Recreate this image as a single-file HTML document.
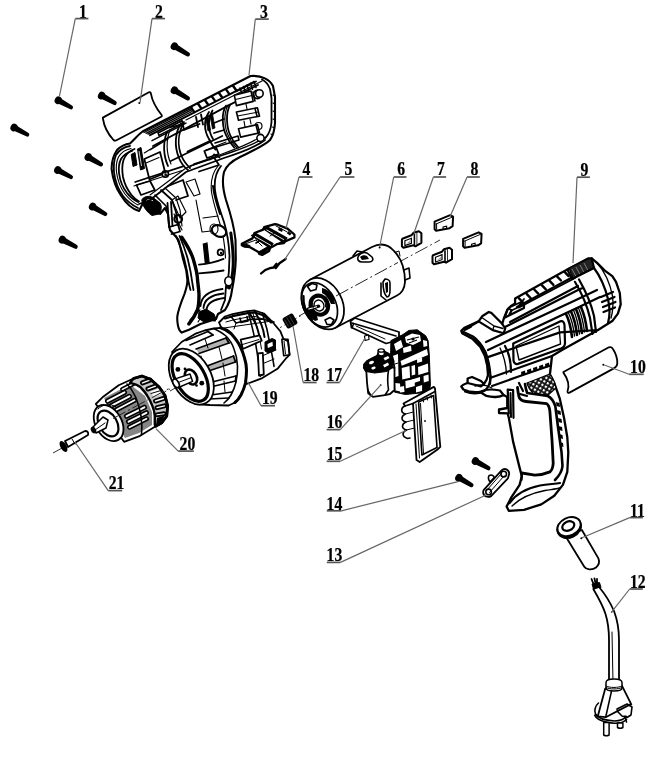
<!DOCTYPE html>
<html><head><meta charset="utf-8"><style>
html,body{margin:0;padding:0;background:#fff;overflow:hidden;}
svg{display:block;will-change:transform;}
.lb{font-family:"Liberation Serif",serif;font-weight:bold;font-size:17.8px;fill:#000;stroke:#000;stroke-width:0.25;}
.ld{stroke:#666;stroke-width:1.2;fill:none;}
.ul{stroke:#555;stroke-width:1.7;fill:none;}
</style></head><body>
<svg width="668" height="762" viewBox="0 0 668 762">
<defs>
<g id="scr"><ellipse cx="0" cy="0" rx="3.2" ry="3.4" fill="#000"/><path d="M0,-2.6 L13,-1.5 Q16,0 13,1.6 L0,2.7 Z" fill="#000"/></g>
</defs>
<rect width="668" height="762" fill="#fff"/>

<style>
.k{stroke:#000;stroke-width:1.8;fill:#fff;stroke-linejoin:round;stroke-linecap:round}
.n{stroke:#000;stroke-width:1.6;fill:none;stroke-linejoin:round;stroke-linecap:round}
.t{stroke:#000;stroke-width:1.0;fill:none;stroke-linejoin:round;stroke-linecap:round}
.b{stroke:#000;stroke-width:2.4;fill:none;stroke-linejoin:round;stroke-linecap:round}
.f{fill:#000;stroke:none}
.h9 .n{stroke-width:2.2}
.h9 .t{stroke-width:1.35}
.h9 .k{stroke-width:2.3}
.h3 .n{stroke-width:1.8}
.h3 .t{stroke-width:1.15}
.h3 .k{stroke-width:2.1}
.cl{stroke:#333;stroke-width:1;fill:none;stroke-dasharray:14 3 2 3}
</style>
<!-- centerlines -->
<path class="cl" d="M53,453 L170,389"/>
<path class="cl" d="M170,391 L301,315.6"/>
<path class="cl" d="M299,316 L440,240"/>

<!-- plate 2 -->
<path class="k" d="M102.9,117.6 L148.9,92.3 Q150.6,91.8 150.9,93.6 C152,100 156,108 161.8,115.3 Q162.2,116.3 161.2,116.8 L116,140.5 Q114.5,141 113.5,140 C108,134 104,126 102.9,118.5 Z"/>
<circle cx="139.3" cy="103" r="1" class="f"/>

<!-- housing 3 -->
<g id="h3" class="h3">
<path class="k" d="M142.5,131.5 L250.5,76 C262,75 270,80 273,86 L275,97 L275,123 C274.5,131 273,136 270,140 C264,146 252,151 240,157 C232,161 226,166 224,172 C222,180 223,190 226,200 C230,212 234,225 235.5,240 L235.8,259 C235.5,270 234,280 232,290 C231,298 229,304 225,310 L218,314 L216,319 L200.5,324 L189,329.7 L181.7,332.6 C178,330 177,322 177.3,316.7 C178,310 180,305 184.6,293.6 C186.5,288 187.4,285 187.4,280 C187,270 185,265 183,259 C181,250 180,245 178.5,240 C176,236 173,234 170,230 C169,226 168.5,220 168,214 L165,208 L160,214 L150,207 L143,203 L139,211 C132,209 125,202 120.7,195 C116,188 113,180 111.6,169 C111.5,162 113,156 117,150 C121,146 126,144 130,143.5 C135,139 139,134 142.5,131.5 Z"/>
<!-- front C rings -->
<path class="n" d="M130,146 C124,147 119,150 116,155 C114,160 113.5,166 114,172 C115,181 118,189 123,196 C127,201 132,205 138,208"/>
<path class="t" d="M131,148.5 C126,149.5 121.5,152 118.5,157 C116.5,161 116,167 116.5,172 C117.5,180 120.5,188 125,194 C129,199 133,202.5 138,205"/>
<path class="n" d="M132,151 C128,152 124,154.5 121,159 C119,163 118.5,168 119,173 C120,181 123,188 127,193 C130,197 134,200 138,202"/>
<!-- top band -->
<path class="b" d="M144.0,132.5 L192.0,107.9 M146.0,133.3 L192.0,109.7 M148.0,134.1 L192.0,111.5" style="stroke-width:1.3"/>
<path class="b" d="M150.0,135.2 L254.0,81.8" style="stroke-width:1.9"/>
<path class="b" d="M191.0,107.4 L194.2,111.9 M198.0,103.8 L201.2,108.3 M205.0,100.2 L208.2,104.7 M212.0,96.6 L215.2,101.1 M219.0,93.0 L222.2,97.5 M226.0,89.4 L229.2,93.9 M233.0,85.8 L236.2,90.3" style="stroke-width:2.4"/>
<path d="M158,133.0 L182,120.7 L183,123.2 L159,135.5 Z" fill="#fff" stroke="#000" stroke-width="1.6"/>
<path class="b" d="M152.0,140.6 L186.0,123.1" style="stroke-width:1.5"/>
<path class="t" d="M186.0,120.1 L262.0,81.1"/>
<path class="b" d="M236,91.5 L256,81.5 M238,95 L258,85" style="stroke-width:1.8"/>
<path class="b" d="M240,88 L242,94 M243.5,86.5 L245.5,92.5 M247,85 L249,91 M250.5,83.2 L252.5,89.2 M254,81.5 L256,87.5" style="stroke-width:1.5"/>
<!-- inner wall lower edge under top band -->
<path class="n" d="M153,146 L230,104.6 L249,95.2"/>
<!-- right end rim -->
<path class="n" d="M262,79.5 C266,81.5 268.5,85 270,89 L271.5,98 L271.5,122 C271,129 269,134 265.5,138"/>
<path class="t" d="M273,95 l2,1 M273,103 l2,1 M273,111 l2,1 M273,119 l2,1 M272.5,127 l2,1 M271,134 l2,1"/>
<circle class="n" cx="257.4" cy="94.5" r="4"/>
<circle class="t" cx="258.5" cy="126" r="3.5"/>
<!-- front interior (detailed) -->
<path class="n" d="M134.5,149 C129,151 125.5,155 123.5,160 C122,165 122,171 123,177 C124.5,184 127.5,190 131.5,195 C134,198 136.5,200 139,201.5"/>
<path d="M131.2,154.4 L135,152.5 L137,165 L133,166.5 Z" fill="#000" stroke="#000" stroke-width="1"/>
<path d="M137.5,149 L141,147.5 L144.5,168.5 L140.5,170 Z" fill="#000" stroke="#000" stroke-width="1"/>
<path d="M139,151 L141.5,166" stroke="#fff" stroke-width="0.8"/>
<path class="n" d="M144.3,159 L160,152 L165.3,173 L149.5,179.5 Z"/>
<path class="t" d="M146,163 L159,157.5"/>
<circle class="k" cx="165.3" cy="174.1" r="3.2" style="stroke-width:1.6"/>
<circle class="f" cx="165.6" cy="174.4" r="1.2"/>
<path class="n" d="M135.2,182 L183.7,166.2"/>
<path class="t" d="M134,186 L182,170.5"/>
<path class="t" d="M144.3,153 L163.5,141 M150,150 L168,139"/>
<path class="n" d="M136.5,185 L150,181 L154.8,190 L141,195 Z"/>
<path d="M141.7,200 C144,196 149,195.5 153,197.5 L160,203 C162,206 161.5,211 159,214 L152,215.5 C148,213 145,209 143,205 Z" fill="#000" stroke="#000" stroke-width="1"/>
<path d="M146,201 C148,199 151,199 153,201" stroke="#fff" stroke-width="1" fill="none"/>
<path class="b" d="M155,195 L166,206 L168,213" style="stroke-width:1.6"/>
<path class="n" d="M161,190 L172,200 L176,212 L178,225"/>
<path class="t" d="M165,188 L176,198 L180,210 L182,226"/>
<path class="n" d="M168,186 L183,180 L188,196 L176,200"/>
<path class="n" d="M167.5,203 L169,227 M171,202 L172.5,226"/>
<circle cx="178.2" cy="219" r="3.8" fill="none" stroke="#000" stroke-width="2.2"/>
<path class="n" d="M169.5,227 L178,224.5 L180,231.5 L171.5,234"/>
<!-- bottom inner edge of body -->
<path class="n" d="M139,204 L150,200 L186,172 L224,158 C240,153 256,147 265,140"/>
<path class="t" d="M150,195 L186,168 L222,154 C236,149 250,144 260,137"/>
<path class="b" d="M190,166 L232,152 C246,147 257,143 266,137" style="stroke-width:1.4"/>
<!-- rear rib plates -->
<path class="k" d="M234.3,95.2 L251,91 L253.2,101.4 L236.4,105.6 Z" style="stroke-width:1.6"/>
<path class="t" d="M235.5,99.5 L252,95.5"/>
<path class="k" d="M236.4,112 L257.4,107.7 L259.5,116.1 L238.5,120.3 Z" style="stroke-width:1.6"/>
<path class="t" d="M237.5,116 L258.5,112"/>
<path class="k" d="M238.5,128.7 L257.4,124.5 L259.5,132.9 L240.6,137.1 Z" style="stroke-width:1.6"/>
<path class="b" d="M253,92 L255,101 M255,108.5 L257,116 M256,125 L258,133" style="stroke-width:1.6"/>
<circle class="k" cx="259.4" cy="93.5" r="3.8" style="stroke-width:1.6"/>
<circle class="k" cx="260.5" cy="138" r="3.6" style="stroke-width:1.6"/>
<path class="t" d="M246,104 L247,109 M250,119 L251,124 M244,121 L245,127"/>
<!-- big arcs -->
<path class="n" d="M226,105.6 C223.5,110 222.5,115 222.8,120.3 C223,126 224,131 226,135 C228,140 231,144 234.3,147.6"/>
<path class="n" d="M230.1,104.6 C227.8,109 226.8,114.5 227,120.3 C227.3,126 228.2,131 230.1,135 C232.2,140 235,144 238.5,147.6"/>
<path class="t" d="M228,105 C225.5,110 224.6,115 224.9,120.3 C225.2,126 226,131 228,135 C230,140 233,144 236.5,147.6"/>
<path class="n" d="M209,112 C206.5,116 205,120 205,124.5 C205,130 206.5,135 209,139 C211,143 213,146.5 215.5,149.6"/>
<path class="n" d="M212.5,110.5 C210,115 208.8,119.5 208.8,124 C209,130 210.5,135 213,139"/>
<path class="n" d="M181,123 C175,133 174,146 179,158 C181,163 184,167 188,170"/>
<path class="n" d="M184,122 C178,133 177,146 182,157 C184,162 187,165 190,168"/>
<path class="n" d="M167,132 C163,142 163,155 168,166"/>
<path class="t" d="M170,130 C166,140 166,153 171,164"/>
<path class="b" d="M196,117 L198,127 M201,114.5 L203,124.5" style="stroke-width:1.8"/>
<path class="n" d="M214,123 L224,119 M214,133 L224,130"/>
<path d="M205.5,117 L208,116 L210.5,130 L208,131 Z M210,115 L212.5,114 L215,128 L212.5,129 Z" fill="#000" stroke="#000" stroke-width="0.8"/>
<path class="n" d="M204.3,151 L216,147 L218.7,154 L207,158 Z"/>
<path class="n" d="M194,164 L214,157.5 L219,165 L199,171.5"/>
<path class="n" d="M170.8,161 L222.3,136"/>
<path class="n" d="M187.5,151.5 L210.3,140.7"/>
<path class="n" d="M169.6,127.5 L182.8,124 L184,130 L199.5,124"/>
<path class="b" d="M215,143 L238,136 L239,140 L216,147" style="stroke-width:1.6"/>
<!-- interior blocks -->
<path class="t" d="M206,150 L226,142 M210,160 L214,154 L220,158"/>
<!-- handle back band -->
<path class="n" d="M221,166 C216,172 214,180 215,190 C216,200 220,210 224,222 C227,232 229,244 229.5,256 C229.5,268 228.5,278 227,288"/>
<path class="t" d="M218,166 C212,173 210.5,182 211.5,192 C213,202 216.5,212 220,224 C223,234 225,246 225.5,258"/>
<path class="b" d="M213,186 C214,196 217,205 220,214" style="stroke-width:2"/>
<path class="b" d="M230.8,232.9 C232.5,245 233.5,255 233.2,265 C232.8,275 231,283 229.3,288" style="stroke-width:3"/>
<!-- handle front band -->
<path class="b" d="M181.7,237.2 C187,245 191,252 193.2,258.9 C196,268 197.5,275 197.6,280.6 C198.5,288 199,292 199,295 C199,302 198.5,306 197.6,309.5 C195,316 192,320 188.9,323.9" style="stroke-width:3.4"/>
<path class="n" d="M176,236 C179.5,244 182.5,252 184.5,260 C186.5,268 188,276 189,284 L190.5,290"/>
<path class="n" d="M179.5,236 C183,244 186,252 188,260 C190,268 191.5,276 192.5,284 L193.5,290"/>
<!-- inner handle details -->
<path class="t" d="M172,200 L178,196 L186,212 L180,218 Z M174,214 L182,230 M186,182 L194,196 L200,194 L195,179 Z M196,200 L202,232 L220,230 M203,218 L218,216"/>
<ellipse class="k" cx="219" cy="231" rx="7.5" ry="5.5" transform="rotate(25 219 231)"/>
<ellipse class="t" cx="214" cy="229" rx="4" ry="5"/>
<path d="M203.3,244 L207,243 L209.1,262.5 L205.3,263.2 Z" fill="#000" stroke="#000" stroke-width="1.2"/>
<circle class="n" cx="220.6" cy="252.4" r="3"/>
<circle class="f" cx="221" cy="253" r="1.2"/>
<path class="n" d="M199,264.7 C207,264 216,262 223.6,258.9"/>
<path class="n" d="M199,273.3 C207,273 216,272 223.6,270.5"/>
<ellipse class="k" cx="228.6" cy="281.3" rx="3.8" ry="4.6" style="stroke-width:1.6"/>
<path class="n" d="M200.5,306 C201,297 208,291 222.5,289 M203.5,308 C204,300 210,295 223.5,293.5 M206.5,310 C207,303.5 212,299.5 224.5,298"/>
<path d="M199,312 L206,309 L214,314 L216,319 L204,322 L198,318 Z" fill="#000" stroke="#000" stroke-width="1"/>
<path class="b" d="M226,286 L225,300 L221,310" style="stroke-width:1.8"/>
<path class="t" d="M190,320 L200,310 M198,322 L203,314"/>
<path class="b" d="M200,318.5 L215,320.5" style="stroke-width:2"/>
</g>
<!-- part 4 -->
<g id="p4">
<path class="k" d="M241.8,243.7 L252.5,238.4 L254.5,233 L263.2,229.6 L264.2,227.2 L274.9,224.2 L277.8,224.7 L287.5,228.6 L294.4,234.5 L294.4,237.4 L285.6,241.3 L283.7,243.2 L276.8,244.2 L270,248.1 L269.1,251 L262.2,254.9 L259.3,253.9 L258.4,252 L249.6,247.1 L244.7,246.6 L241.8,245.2 Z" style="stroke-width:2.3"/>
<path d="M251.5,235.5 L256,233.5 L273,243.5 L270,248 Z" fill="#000" stroke="#000" stroke-width="1.2" stroke-linejoin="round"/>
<path d="M263,228.5 L267.5,227 L287,238 L283.5,242.5 Z" fill="#000" stroke="#000" stroke-width="1.2" stroke-linejoin="round"/>
<path d="M255,236.3 L271,245.5" stroke="#fff" stroke-width="0.9"/>
<path d="M266.5,229.8 L284.5,240" stroke="#fff" stroke-width="0.9"/>
<path class="t" d="M245,244 L256,240 L262,246 M270,236 L276,232 M276,226 L282,229 L287,232"/>
<path d="M258.4,252 L269,246 L270,248.1 L262.2,254.9 Z M276.8,244.2 L286,239 L285.6,241.3 L283.7,243.2 Z M241.8,245.2 L249.6,247.1 L250,245.5 L243,243.5 Z" fill="#000" stroke="#000" stroke-width="1"/>
<path class="b" d="M256,243 L259,241" style="stroke-width:1.6"/>
<path d="M279,227.5 L283,229.5 L282,232 L278,230 Z M288,231 L291.5,233.5 L290,235.5 L287,233.5 Z" fill="#000"/>
</g>
<!-- part 5 spring -->
<path class="b" d="M261,273.5 C263.5,271 266.5,269 270,268.2 L273.5,267.5 L276.5,263.8 L275.6,268.2 L279.5,263.2 L285.6,259" style="stroke-width:2.3"/>

<!-- motor 6 -->
<g id="motor">
<path class="k" d="M309.9,279.7 L372,247 C380,243 388,244 394,251 C401,258 405,270 405,282 C404.5,289 402,293 397,295.5 L335.5,327.7 Z"/>
<!-- slots -->
<path class="n" d="M358,257 C360,253 364,252 367,253 L372,257 C374,260 372,262 369,262 L362,262 C359,262 357,260 358,257 Z"/>
<path class="f" d="M360,257 C362,255 365,255 367,256 L369,259 L362,260 Z"/>
<path class="n" d="M353,256 L357,251 L362,252"/>
<path class="n" d="M383,282 C383,286 384,294 387,297 C389,297 390,294 390,290 L390,283 C390,280 387,279 385,279 Z"/>
<path class="f" d="M385,283 L388,282 L388,292 L386,293 Z"/>
<path class="n" d="M381,283 L381,296 L386,300"/>
<!-- terminals -->
<path class="n" d="M404,270 L409,268 L410,278 L405,280"/>
<path class="t" d="M396,252 L399,251 L400,256"/>
<!-- front face -->
<ellipse class="k" cx="322.7" cy="303.7" rx="19.4" ry="27.2" transform="rotate(-28 322.7 303.7)"/>
<ellipse class="n" cx="319.6" cy="304.9" rx="16" ry="23.6" transform="rotate(-28 319.6 304.9)" style="stroke-width:1.7"/>
<path class="b" d="M303.5,296 C303,304 306,313 312,320" style="stroke-width:2.2"/>
<!-- dark sectors -->
<path class="f" d="M322,288 C327,289 332,293 334,298 L335,304 L331,304 C329,299 326,295 322,293 Z"/>
<path class="f" d="M306,309 C307,314 310,318 315,321 L318,320 L317,316 C314,314 311,311 309,307 Z"/>
<path class="k" d="M307.5,286.5 L312,283.5 L317,285 L316,289.5 L310.5,291 Z" style="stroke-width:1.6"/>
<path class="k" d="M325,320 L330,317.5 L334,320 L331.5,324.5 L327,324.5 Z" style="stroke-width:1.6"/>
<!-- hub -->
<ellipse cx="319.3" cy="305.2" rx="8.6" ry="9.8" transform="rotate(-28 319.3 305.2)" fill="none" stroke="#000" stroke-width="4"/>
<ellipse cx="319" cy="305.5" rx="4.8" ry="5.6" transform="rotate(-28 319 305.5)" fill="#fff" stroke="#000" stroke-width="1.4"/>
<path d="M317.5,306.5 L308,309.2" stroke="#000" stroke-width="3.2" stroke-linecap="round"/>
<path d="M317.5,306.5 L308.8,309" stroke="#fff" stroke-width="1.2" stroke-linecap="round"/>
<circle class="f" cx="318.6" cy="306.2" r="1.6"/>
<path class="t" d="M323,299 C325,301 326,304 325.5,307 M313,300 C312,303 312.5,307 314,309"/>
</g>

<path class="cl" d="M336,296 L398,262.5" style="stroke:#222"/>
<circle cx="379.6" cy="247.5" r="1" fill="#000"/>
<!-- brushes 7/8 -->
<g transform="translate(401.4,231.3)"><path d="M1,7.5 L10,4 L12,1.5 L17.5,0 L20,2 L20,11.5 L14,15 L12,14 L2,16.5 L0.5,15 L0.5,8.5 Z" fill="#fff" stroke="#000" stroke-width="2" stroke-linejoin="round"/><path d="M3.5,9.5 L10,7 L10,12 L3.5,14.3 Z" fill="#fff" stroke="#000" stroke-width="1.2"/><path d="M5,12.5 L9,9 L9,11.5 Z" fill="#999"/><path d="M13,2.5 L13,14" stroke="#000" stroke-width="1.6"/><path d="M15.5,1.5 L15.5,13.5" stroke="#000" stroke-width="0.8"/></g>
<g transform="translate(432,247.7)"><path d="M1,7.5 L10,4 L12,1.5 L17.5,0 L20,2 L20,11.5 L14,15 L12,14 L2,16.5 L0.5,15 L0.5,8.5 Z" fill="#fff" stroke="#000" stroke-width="2" stroke-linejoin="round"/><path d="M3.5,9.5 L10,7 L10,12 L3.5,14.3 Z" fill="#fff" stroke="#000" stroke-width="1.2"/><path d="M5,12.5 L9,9 L9,11.5 Z" fill="#999"/><path d="M13,2.5 L13,14" stroke="#000" stroke-width="1.6"/><path d="M15.5,1.5 L15.5,13.5" stroke="#000" stroke-width="0.8"/></g>
<g transform="translate(434.1,214.2)"><path d="M0.5,7.5 L16,1 L19,2.5 L18.5,12 L15.5,14 L2,16.5 L0.5,15 Z" fill="#fff" stroke="#000" stroke-width="2" stroke-linejoin="round"/><path d="M1.5,10 L16.5,3.6 L18.5,2.8" fill="none" stroke="#000" stroke-width="1"/><path d="M2.5,9.2 L2.5,15.5" stroke="#000" stroke-width="1"/><path d="M9,15 L9,12.8 L12.5,12 L12.5,14.4" fill="none" stroke="#000" stroke-width="1.1"/></g>
<g transform="translate(462.6,231.3)"><path d="M0.5,7.5 L16,1 L19,2.5 L18.5,12 L15.5,14 L2,16.5 L0.5,15 Z" fill="#fff" stroke="#000" stroke-width="2" stroke-linejoin="round"/><path d="M1.5,10 L16.5,3.6 L18.5,2.8" fill="none" stroke="#000" stroke-width="1"/><path d="M2.5,9.2 L2.5,15.5" stroke="#000" stroke-width="1"/><path d="M9,15 L9,12.8 L12.5,12 L12.5,14.4" fill="none" stroke="#000" stroke-width="1.1"/></g>

<!-- switch rod 17 -->
<g id="sw">
<path class="k" d="M350.4,321.2 L354.7,318 L399,332 L399,340 L386,343.5 L351.5,327.5 Z"/>
<path class="n" d="M351.5,323 L353.7,323.4 L396,336 M353.7,323.4 L352,327.8"/>
<path class="t" d="M356,326 L385,339"/>
<path class="k" d="M364.5,336 L368.5,335 L369,339.5 L365,340.5 Z" style="stroke-width:1.2"/>
<!-- switch body 16 (dark) -->
<path fill="#000" stroke="#000" stroke-width="1" stroke-linejoin="round" d="M390.9,340.6 L402.9,334.6 L408.9,330.4 L417.3,329.8 L425.7,335.8 L428.1,340.6 L429.3,355 L430.4,384.9 L429.3,392.1 L405.3,394.5 L394.5,392.1 L391,380 L390.5,360 Z"/>
<g fill="#fff">
<path d="M400.5,361 L426.9,349 L428.1,355 L401.7,365.7 Z"/>
<path d="M401.7,368 L409.5,366 L410.1,377.7 L402.3,379.5 Z"/>
<path d="M417,359 L422,357.5 L422.2,361.5 L417.2,363 Z"/>
<path d="M405.3,381 L414.5,378.9 L414.9,386 L405.8,388.5 Z"/>
<path d="M416,387 L422.1,385 L422.1,391 L416,392.5 Z"/>
<path d="M423.5,376 L428.5,374.5 L428.8,381 L423.8,382.5 Z"/>
<path d="M395,383 L400,383.5 L400.5,391.5 L395.5,390.5 Z"/>
<path d="M405,337 L412,333.5 L420,335 L421,341 L413,345 L406,342.5 Z"/>
<path d="M394,344 L401,340 L403,347 L396,351 Z"/>
<path d="M411.5,366 L415,365 L415.3,374.5 L411.8,375.5 Z"/>
<path d="M423,340 L427,341 L427.3,346 L423.5,347 Z"/>
<path d="M392.5,356 L398,354 L398.5,376 L393,378 Z"/>
<path d="M403,348 L411,345.5 L411.5,351 L403.5,353 Z"/>
<path d="M418,367 L428,363.5 L428.3,372 L418.3,375 Z"/>
<path d="M412,379.5 L420,377 L420,381 L412,383.5 Z"/>
<path d="M399.5,387 L404,386 L404.5,392 L400,392.5 Z"/>
</g>
<path d="M407,340 L419,337 M409,343 L417,340" stroke="#000" stroke-width="1.2"/>
<circle cx="413" cy="339" r="1.6" fill="#000"/>
<path d="M395,364 L398,363" stroke="#000" stroke-width="1"/>
<!-- trigger 16 -->
<path class="k" d="M364,364.5 L367,361 L374.2,357.3 L379,355 L386.1,355 L391,357.3 L393.3,361 L394.5,368 L394.5,390 L390,394 L384.9,395.1 L373,396.9 L368.2,393.3 L367,382.5 L366.4,372.3 C364.5,370 364,367 364,364.5 Z"/>
<path d="M363.5,368 L364.5,363.6 L369.2,359.7 L377,355.7 L378.6,351 L383,350 L386,352 L389,353.6 L392.5,356.5 L393.8,361 L392.5,367.5 L386.5,371.5 L374.7,373 L366,371.5 Z" fill="#000" stroke="#000" stroke-width="1.2" stroke-linejoin="round"/>
<g fill="#fff">
<ellipse cx="371.5" cy="362.5" rx="2.6" ry="1.6" transform="rotate(-20 371.5 362.5)"/>
<ellipse cx="373.5" cy="368" rx="2.2" ry="1.3" transform="rotate(-15 373.5 368)"/>
<ellipse cx="380.8" cy="352.3" rx="2" ry="1.3"/>
<path d="M383.5,358 L388,356 L389.5,358 L385,360.5 Z"/>
<path d="M383,365 L388,362.5 L389,365 L384.5,367.5 Z"/>
</g>
<path class="n" d="M388.5,370.5 C387.5,376 387.5,383 388.5,389.7 L384.9,395.1"/>
<path class="n" d="M392.5,367.5 L394.5,368"/>
<path class="f" d="M367,383 C367.5,388 369,392 373,396.5 L370,396 C368,393 367,389 367,383 Z"/>
<circle class="f" cx="380.7" cy="385.1" r="0.9"/>
<path d="M378.2,350.5 L378.2,354.5 C379.5,356.3 383,356.3 384.2,354.5 L384.2,350.5 Z" fill="#fff" stroke="#000" stroke-width="1.3"/>
<ellipse cx="381.2" cy="350.5" rx="3" ry="1.7" fill="#fff" stroke="#000" stroke-width="1.3"/>
<!-- board 15 -->
<path class="k" d="M403.5,403.5 L433.8,386.9 L435,388.4 L440.3,446.8 L437.5,449.5 L419.7,462 L416.5,460 L413,403.5 L405,406 Z"/>
<path class="n" d="M413,403.5 L435,391.5"/>
<path class="n" d="M418.6,402 L433.5,395.5 L437,447.5 L421.9,455 Z"/>
<path class="t" d="M420.5,403.5 L423.5,453.5"/>
<path class="t" d="M416,404 L419.5,458"/>
<path class="t" d="M423,399 L423.5,402 M427,397 L427.5,400 M431,395 L431.5,398"/>
<path class="n" d="M405,406 C401,407.5 400,412.5 405.5,414 C401,416 400.5,420.5 406,422 C401.5,424 401,428.5 406.5,430 C402,432 401.5,436.5 407.5,438.5 L410,438"/>
<path class="t" d="M405.5,414 L413.5,412 M406,422 L414,420 M406.5,430 L414.5,428"/>
<circle class="f" cx="425" cy="421" r="0.9"/>
</g>

<!-- knob 18 -->
<g transform="rotate(-30 290 321)">
<rect x="284" y="315" width="12" height="12" rx="2" fill="#000"/>
<path d="M286,317 L286,325 M289,316 L289,326 M292,316 L292,326" stroke="#555" stroke-width="0.6"/>
</g>

<!-- gearbox 19 -->
<g id="gb">
<!-- rear body -->
<path class="k" d="M219,322.5 L225,316.5 L232.5,314.2 L247.4,311.2 L254.9,310.5 L263.9,313.5 L272.9,322.5 L280.4,331.4 L283.4,338.9 L288,341.1 L289.6,354.8 L285.7,358.7 L277.9,368.4 L262.3,378.1 L246.7,384 Z"/>
<path class="b" d="M225,318.5 L232.5,316.2 L247.4,313.2 L254.9,312.5 L263.9,315.5 L271,322.5" style="stroke-width:2.2"/>
<path class="t" d="M226,322 L233,320 L248,317 L255,316.5 L263,319"/>
<path class="n" d="M248.7,313.9 C252,326 255,338 256.5,348.9 C258,358 259.5,367 260.4,376.2"/>
<path class="n" d="M262.3,312.9 C266,324 268.5,335 270.1,345 C271.5,352 273,359 274,366.4"/>
<path class="t" d="M253,313.5 C257,326 260,338 261.5,349"/>
<path class="n" d="M281.8,339.2 L288,339.2 L289.6,354.8 L283.7,355.7 Z"/>
<path class="t" d="M284,341 L285.5,354"/>
<path class="b" d="M249,312.3 C252,317 255,322 256.5,326 C258,330 259,334 259.6,337.5 M254.5,311 C257.5,316 260,321 261.5,325 C263,329 264,333 264.5,337" style="stroke-width:2"/>
<path d="M265,342 L272,338.5 L275.5,340 L275.5,350 L268,353 L265,351 Z" fill="#000" stroke="#000" stroke-width="1"/>
<path d="M267.5,344 L272.5,341.8 L272.8,346 L267.8,348 Z" fill="#fff"/>
<path class="t" d="M262,356 L276,350 M262,364 L274,359"/>
<path class="k" d="M240.7,339.6 L259.6,335.4 L261.7,340.7 L242.8,349 Z"/>
<path class="t" d="M242.5,344.5 L259,339.5"/>
<path class="k" d="M257.9,353.5 L262.8,352.8 L263.8,374.5 L259,375.5 Z"/>
<path class="n" d="M231.2,316.8 L236,323 L250,319.5 L262,319 L274,322"/>
<path class="t" d="M236,323 L234,329 M224,328 L272,321"/>
<path class="n" d="M240,318 L241,322.5 L248,321 L247,316.5"/>
<!-- collar -->
<path class="k" d="M172,352 L181.6,342 L195,333.9 L204.5,330.5 L213.9,328.5 L220.6,327.8 C225,329 228,331 231,333.5 C235,338 238,342 240,346 C242,350 243.5,354 244.5,358 C245.8,362 246.5,366 246.5,370 C246.5,375 246,379 245.5,383 C244.5,387 243,391 241,395 C239,398.5 237,401 235,402.5 L228.7,405.5 L210,405 L195,404 Z"/>
<path class="b" d="M220.6,327.8 C225,329 228,331 231,333.5 C235,338 238,342 240,346 C242,350 243.5,354 244.5,358 C245.8,362 246.5,366 246.5,370 C246.5,375 246,379 245.5,383 C244.5,387 243,391 241,395 C239,398.5 237,401 235,402.5" style="stroke-width:3"/>
<path class="n" d="M213.9,328.5 C219,331 223,333.5 226,336 C230,340 232.5,344.5 234,349 C236,354 237.3,360 237.5,366 C237.7,372 237.2,377 236,382 C234.8,387 233.2,391 231,395 C229,398.5 226.5,401 224,403"/>
<!-- fins -->
<path class="n" d="M186,340.5 L208,331.5 M190,345 L213,335"/>
<path class="n" d="M196,349 L226,338 M199,353.5 L229,343"/>
<path class="f" d="M196,349 L226,338 L229,343 L199,353.5 Z" style="opacity:0.3"/>
<path class="n" d="M207,366 L233.5,356 M208.5,371 L235.5,362"/>
<path class="f" d="M207,366 L233.5,356 L235.5,362 L208.5,371 Z" style="opacity:0.3"/>
<path class="n" d="M212,382 L236,376 M212.5,386.5 L235.5,381"/>
<path class="n" d="M211,395 L232,392 M209,399 L229,398"/>
<path class="b" d="M226,338 L229,343 M233.5,356 L235.5,362 M236,376 L235.5,381 M208,331.5 L213,335" style="stroke-width:1.8"/>
<path class="t" d="M201,356 L204,366 M219,347 L222,359 M223,363 L225,376 M224,381 L225,392 M205,339 L208,348"/>
<!-- front face -->
<ellipse class="k" cx="191.3" cy="376.6" rx="19.3" ry="30.3" transform="rotate(-30 191.3 376.6)"/>
<ellipse cx="190.2" cy="377.5" rx="14.5" ry="26.2" transform="rotate(-30 190.2 377.5)" fill="none" stroke="#000" stroke-width="3.2"/>
<!-- hub & shaft -->
<ellipse cx="191" cy="377" rx="5.5" ry="8" transform="rotate(-30 191 377)" fill="none" stroke="#000" stroke-width="2.6"/>
<path d="M176,378.6 L190,374 L192.6,381.4 L177.9,387.8 Z" fill="#fff" stroke="#000" stroke-width="1.5" stroke-linejoin="round"/>
<path class="t" d="M177,383 L191,377.7"/>
<ellipse cx="176" cy="383.3" rx="2.6" ry="4.6" transform="rotate(-30 176 383.3)" fill="#fff" stroke="#000" stroke-width="1.6"/>
<circle class="f" cx="177.9" cy="369.4" r="2.4"/>
<circle class="f" cx="201.8" cy="383.2" r="2.4"/>
<circle class="f" cx="185" cy="369" r="1.4"/>
<circle class="f" cx="196.5" cy="385.5" r="1.3"/>
</g>

<!-- chuck 20 -->
<g id="chuck">
<path class="k" d="M95.8,404 L102.5,397.3 L118.7,385.2 L133.5,378.5 L142,376 L150.6,379.4 L159.1,387 L165.1,395.6 L167.6,405.8 L166.8,416 L161.7,422.9 L155.7,426.3 L138.9,436.4 L124.1,441.8 Z"/>
<!-- sleeve dark bands -->
<path d="M104,398 L130,384.5 L145,396 L152,412 L152,425 L139,433 L125,438 L110,410 Z" fill="#858585" stroke="none"/>
<rect x="0" y="-1.80" width="22.59" height="3.60" rx="1.80" transform="translate(106,402) rotate(-27.7)" fill="#fff" stroke="#000" stroke-width="1.6"/><rect x="0" y="-1.80" width="23.71" height="3.60" rx="1.80" transform="translate(110,406.5) rotate(-27.6)" fill="#fff" stroke="#000" stroke-width="1.6"/><rect x="0" y="-1.70" width="23.71" height="3.40" rx="1.70" transform="translate(115,410.5) rotate(-27.6)" fill="#fff" stroke="#000" stroke-width="1.6"/><rect x="0" y="-1.80" width="23.48" height="3.60" rx="1.80" transform="translate(125,417) rotate(-26.6)" fill="#fff" stroke="#000" stroke-width="1.6"/><rect x="0" y="-1.80" width="23.48" height="3.60" rx="1.80" transform="translate(127,422.5) rotate(-26.6)" fill="#fff" stroke="#000" stroke-width="1.6"/><rect x="0" y="-1.70" width="22.36" height="3.40" rx="1.70" transform="translate(128,428) rotate(-26.6)" fill="#fff" stroke="#000" stroke-width="1.6"/><rect x="0" y="-1.50" width="15.65" height="3.00" rx="1.50" transform="translate(121,390) rotate(-26.6)" fill="#fff" stroke="#000" stroke-width="1.6"/>
<path class="n" d="M127,384 C135,392 139,404 141,416 C142,423 142,430 141.5,435"/>
<!-- knurled ring -->
<path d="M130.1,382.8 C135,384 138,385 140.3,387 C143,390 145.5,392.5 147.2,395.6 C149.5,399 151,402.5 152.3,405.8 C153.8,409 154.5,412.5 154.8,416 L154.8,424.6 L155.7,426.3 L161.7,422.9 L166.8,416 L167.6,405.8 L165.1,395.6 L159.1,387 L150.6,379.4 L142,376 L133.5,378.5 Z" fill="#c8c8c8" stroke="#000" stroke-width="2.4" stroke-linejoin="round"/>
<rect x="0" y="-1.60" width="11.24" height="3.20" rx="1.60" transform="translate(141,383.5) rotate(-20.9)" fill="#fff" stroke="#000" stroke-width="1.8"/><rect x="0" y="-1.60" width="11.24" height="3.20" rx="1.60" transform="translate(146.5,389.5) rotate(-20.9)" fill="#fff" stroke="#000" stroke-width="1.8"/><rect x="0" y="-1.60" width="11.54" height="3.20" rx="1.60" transform="translate(154,401.5) rotate(-17.7)" fill="#fff" stroke="#000" stroke-width="1.8"/><rect x="0" y="-1.60" width="10.79" height="3.20" rx="1.60" transform="translate(155.5,408) rotate(-13.4)" fill="#fff" stroke="#000" stroke-width="1.8"/><rect x="0" y="-1.50" width="10.11" height="3.00" rx="1.50" transform="translate(155.5,415) rotate(-8.5)" fill="#fff" stroke="#000" stroke-width="1.8"/>
<path d="M150.5,391.5 L159.5,388.5 L161.5,394 L153.5,397 Z" fill="#fff" stroke="none"/>
<path class="t" d="M151,393.5 L161,390.5"/>
<path class="b" d="M133.5,378.5 L142,376 L150.6,379.4 L159.1,387 L165.1,395.6 L167.6,405.8 L166.8,416 L161.7,422.9 L155.7,426.3" style="stroke-width:2.8"/>
<path d="M157,418 L165,415 L162,422 L156,425 Z" fill="#000"/>
<!-- front -->
<ellipse class="k" cx="108.6" cy="423" rx="13" ry="19.5" transform="rotate(-30 108.6 423)"/>
<ellipse cx="108" cy="423.5" rx="9" ry="14" transform="rotate(-30 108 423.5)" fill="none" stroke="#000" stroke-width="2.2"/>
<path class="t" d="M98,409 C103,404 110,403 116,407"/>
<path class="k" d="M93,427 L103,417 L108,420 L106,428 L96,433 Z" style="stroke-width:1.5"/>
<path class="t" d="M95,430 L105,423"/>
<ellipse class="f" cx="93.5" cy="430" rx="2.4" ry="3.6" transform="rotate(-30 93.5 430)"/>
</g>

<path class="cl" d="M113,418.5 L170,388" style="stroke:#222"/>
<!-- screw 21 -->
<g id="s21">
<path class="k" d="M65,441 L85,431 Q89,431 88,435 L68,447 Z"/>
<path class="t" d="M72,439 L75,444"/>
<ellipse class="f" cx="63.5" cy="446.5" rx="3" ry="6" transform="rotate(-30 63.5 446.5)"/>
</g>

<!-- plate 10 -->
<path class="k" d="M563.4,372 L608.9,347.3 Q611.5,346.5 612.8,348.8 C615.5,353 617.5,359 617.3,363.5 Q617,367 613.4,368.6 L569.5,392.6 Q567.5,393.5 567.5,391.5 C569.5,386 568,379 563.4,372.6 Z"/>
<circle cx="603.3" cy="364.7" r="1" class="f"/>

<!-- housing 9 -->
<g id="h9" class="h9">
<!-- silhouette -->
<path class="k" d="M461.3,330.9 L464.4,327.7 L478.6,321.4 L482.5,315.9 L488.8,312 L491.2,312.8 L502.2,323.8 L504,318 L507.5,309.5 L511,306 L515.1,303.5 L515.1,298.5 L561.8,272.5 L567.4,269.6 L588,258.4 L591.7,258.4 L597.3,263.1 L604.8,270.6 L612.3,276.2 L616,281.8 L619.8,293 L620.7,304.3 L617.9,313.6 L612.3,321.1 L598,330 L580,340 L562,350 L552,356 L549.9,374.5 L554.3,383.1 L559.7,398.3 L564,417.8 L567.3,437.3 L568.3,452.4 L567.3,471.9 L562.9,484.9 L554.3,495.7 L541.3,504.4 L524,509.8 L508.8,510.8 L506.6,506.5 L511,497.9 L519.6,484.9 L521.8,476.2 L519.6,467.6 L513.1,441.6 L508.8,417.8 L507.7,413.4 L499,413 L499,409.5 L507.4,408 L507.4,397 L503.5,395 C500,397.5 492,397.5 486.4,395.9 L480.1,392 C475,392.5 468,391.8 463.4,389.5 L461.3,386.5 C462,385 465,384 467.6,383 L467.6,378.5 L472,377 L481,381 L484,384 C486.5,381 487.5,378 488,374.9 L487.2,365.4 L484.9,356 L480.1,346.6 L472.3,338.7 L462.1,333.2 Z"/>
<!-- mouth double line -->
<path class="n" d="M462.5,331.5 L473,336.5 C478,340 482,345 485.5,352 C488.5,360 490,368 490.5,376 L490,384"/>
<path class="t" d="M465,334.5 L474,339 C479,343 482.5,348 485,354 C487.5,361 488.5,368 488.8,376"/>
<path class="n" d="M490.5,376 C490.5,382 489,387 485,390.5 C480,393.5 472,394 465,391.5"/>
<path class="n" d="M467.6,383 L481,386.4 L484,384"/>
<path class="n" d="M480.1,392 C484,389.5 492,389 500,390.5 L503.5,395"/>
<path class="b" d="M507.4,397 L507.4,408 M510.5,393 L511,417" style="stroke-width:2"/>
<!-- hood -->
<path class="n" d="M478.6,321.4 L492.7,330.1 L503.7,333.2 L505.3,328.5 L502.2,323.8"/>
<path class="t" d="M482.5,318 L494,326 L503,328.5 M492.7,330.1 L494,326"/>
<path class="n" d="M464.4,330 L478.6,321.4"/>
<path class="b" d="M466,329.5 L471,327" style="stroke-width:1.8"/>
<!-- step & top ribs -->
<path class="k" d="M508.5,308 L521,302 L524,304.5 L511.5,310.5 Z" style="stroke-width:1.7"/>
<path class="n" d="M504,318 L509,315.5 L511.5,310.5 M509,315.5 L524,308 L524,304.5"/>
<path class="b" d="M505,317 L507.5,309.5" style="stroke-width:2"/>
<path class="n" d="M510,322 L578,286"/>
<path class="n" d="M505,327 L580,289 L583,288"/>
<path class="n" d="M517,307 L572,277.5"/>
<path class="b" d="M519.0,298.3 L523.0,302.5 M526.6,293.9 L530.6,298.1 M534.2,289.5 L538.2,293.7 M541.8,285.1 L545.8,289.3 M549.4,280.7 L553.4,284.9 M557.0,276.3 L561.0,280.5 M564.6,271.9 L568.6,276.1" style="stroke-width:2.4"/>
<path class="b" d="M519,307.5 L575,278" style="stroke-width:1.8"/>
<path class="b" d="M519,305.5 L524,299" style="stroke-width:1.8"/>
<path d="M569,268 L588,259 L591.7,258.4 L594,268 L573,278.5 Z" fill="#222" stroke="#000" stroke-width="1.2"/>
<path d="M572,269 L576,276.5 M576,267 L580,274.5 M580,265 L584,272.5 M584,263 L588,270.5" stroke="#888" stroke-width="0.9"/>
<path class="n" d="M567.4,269.6 L572,279 L594,268 L591.7,258.4"/>
<!-- ring band / rear cap -->
<path class="n" d="M574.9,281.8 C581,292 587,305 590,318 L592.5,334"/>
<path class="n" d="M579,279.5 C585,290 591,303 594,316 L596,332"/>
<path class="b" d="M594,268 C600,276 605,287 608,299 C610,308 610,316 608,323" style="stroke-width:2.2"/>
<path class="t" d="M597.3,263.1 C605,272 610,283 612.5,296 C613.5,304 613,311 611,318"/>
<path class="b" d="M601,297 L613,292 M602,302 L614.5,297 M603,307 L615.5,302 M603.5,312 L615,307.5" style="stroke-width:2.2"/>
<!-- mid band -->
<path class="n" d="M486,342 L574.9,300.5 L597,290"/>
<path class="n" d="M488,350 L579,307 L600,297"/>
<!-- window -->
<path class="n" d="M513.2,343.4 L560,321.4 C563,320.5 564,322 564.5,325 L565,343 C565,346 563.5,347.5 561,348.5 L517.9,363.9 C515.5,364.5 514,363 513.5,360.5 Z"/>
<path class="t" d="M516,346 L559,326 L560.5,344 L519,360 Z"/>
<path class="n" d="M505,346 C509,353 511,362 511,372"/>
<path class="t" d="M500,348 C504,356 506,364 506.5,374"/>
<!-- vents -->
<path class="b" d="M566,314 C569,320 571,328 572,337 M571,311.5 C574,318 576,326 577,335 M576,309 C579,316 581,324 582,333 M581,307 C584,314 586,322 587,331" style="stroke-width:2.6"/>
<path class="t" d="M568.5,313 C571.5,319 573.5,327 574.5,336 M573.5,310 C576.5,317 578.5,325 579.5,334 M578.5,308 C581.5,315 583.5,323 584.5,332"/>
<!-- lower body -->
<path class="n" d="M486.4,357.6 L560,332.4 L598,330"/>
<path class="n" d="M490,378 L552,356"/>
<path class="n" d="M492,386 L520,376 L549,366"/>
<g class="f">
<path d="M521,372 L525,370.5 L525.5,374.5 L521.5,376 Z"/>
<path d="M527,370 L531,368.5 L531.5,372.5 L527.5,374 Z"/>
<path d="M533,368 L537,366.5 L537.5,370.5 L533.5,372 Z"/>
<path d="M539,366 L543,364.5 L543.5,368.5 L539.5,370 Z"/>
<path d="M545,364 L549,362.5 L549.5,366.5 L545.5,368 Z"/>
</g>
<path class="t" d="M475,386 C480,384 486,385 492,388"/>
<!-- handle -->
<path class="n" d="M507.7,389.6 L513.1,390 L513.5,417.8 M507.7,389.6 L508.8,413.4"/>
<path class="b" d="M517.5,387.5 C518,392 518.5,396 519.6,398.3 C521,400.5 523,401.3 526.1,401.5 L546.7,403.7 C548.5,405 549.5,407.5 549.9,411.3 L552.1,441.6 L553.2,463.2 C553,467 552,470 549.9,471.9 C545,474 540,475 534.8,475.1 L521.8,473" style="stroke-width:2.8"/>
<path class="b" d="M525,384 C525.5,388 526.5,391 527.2,393 L547.8,396 C551.5,398 554,402 555.3,406 L558,427 L561.5,452 L562.5,466 C562,472 559,476 555,480" style="stroke-width:2.6"/>
<path class="n" d="M520,394 L527,396 M519,383 L523,391"/>
<!-- texture -->
<defs><pattern id="xh" width="4" height="4" patternUnits="userSpaceOnUse" patternTransform="rotate(30)"><rect width="4" height="4" fill="#111"/><rect x="1" y="1" width="2.2" height="2.2" fill="#fff"/></pattern></defs>
<path d="M527,383 L550,374 C553,378 555,383 556,388 L548,395 L533,393 C530,390 528,387 527,383 Z" fill="url(#xh)" stroke="#000" stroke-width="1.2"/>
<!-- side strip slots -->
<g class="f">
<path d="M556,402 L559.5,403 L560,407 L556.5,406 Z"/>
<path d="M557,410 L560.5,411 L561,415 L557.5,414 Z"/>
<path d="M558,418 L561.5,419 L562,423 L558.5,422 Z"/>
<path d="M558.5,426 L562,427 L562.5,431 L559,430 Z"/>
<path d="M559,434 L562.5,435 L563,439 L559.5,438 Z"/>
<path d="M559.5,442 L563,443 L563.5,447 L560,446 Z"/>
</g>
<!-- pommel -->
<path class="b" d="M509.5,503 C516,494 528,488 540,485.5 C548,484 555,484 560,483" style="stroke-width:2.2"/>
<path class="t" d="M512,506 C520,498 532,493 545,490.5 C551,489.5 556,489 560,488"/>
<path class="n" d="M521.8,473 L521.5,480"/>
</g>

<!-- part 13 -->
<path class="k" d="M483.8,489.8 L501.6,470.4 C503,469 505,468.8 506.5,469.4 C508.5,470.5 509.5,473 508.9,475 L507.9,478.3 L491.1,496.1 C489.5,497 487.5,497 486,496.5 C484,495.5 483,493 483.2,491.5 Z"/>
<path class="n" d="M489,475.7 C491,474.5 493.5,475 494.3,477.5 L490,482 C488.5,480 488,477.5 489,475.7 Z"/>
<path class="t" d="M487,490 L501.5,473.5 M489.5,492.5 L504,476"/>
<circle class="n" cx="503.7" cy="474.1" r="2.8"/>
<circle class="n" cx="488.6" cy="491.9" r="2.8"/>

<!-- sleeve 11 -->
<g id="s11">
<path class="k" d="M565.4,536 L584.3,566.7 C586,569.5 592,570.5 596,567.5 C599,565 599.8,562 598.4,558.4 L581.9,530 Z"/>
<ellipse cx="569.2" cy="528" rx="12.6" ry="9.8" transform="rotate(-25 569.2 528)" fill="#000" stroke="#000" stroke-width="1.2"/>
<ellipse cx="569" cy="526.6" rx="12.2" ry="8.9" transform="rotate(-25 569 526.6)" fill="#fff" stroke="#000" stroke-width="1.9"/>
<ellipse cx="568.3" cy="526" rx="6.3" ry="4.4" transform="rotate(-25 568.3 526)" fill="#fff" stroke="#000" stroke-width="2.2"/>
<circle class="f" cx="581.3" cy="538.3" r="1"/>
</g>

<!-- cord 12 -->
<g id="cord">
<path class="b" d="M591.5,579 L593.5,584 M594.5,578.5 L595.5,583.5 M597,579 L597,584" style="stroke-width:1.8"/><path d="M592,584 L599.5,582.5 L601,587.5 L593.5,589 Z" fill="#000" stroke="#000" stroke-width="1"/>
<path class="k" d="M593.3,589 C598,597 603,606 605.5,614 C608,622 609,630 609,640 L609,682 L619,682 L619,640 C619,628 617,619 614,611 C610,602 605,594 599,587 Z"/>
<path class="t" d="M612,632 L613,682"/>
<circle class="f" cx="611.7" cy="612" r="0.8"/>
<path class="k" d="M605.2,688.7 L597.8,716.3 L605.7,717.2 L630.3,704.4 L631.3,704.4 L621.9,685.7 Z"/>
<path class="n" d="M611.6,690.7 L605.7,717.2"/>
<path class="k" d="M606,682.5 C606,680 610,679 614,679 C618,679 622,680 622,682.5 L622,688 C622,690 618,691 614,691 C610,691 606,690 606,688 Z" style="stroke-width:1.5"/>
<path class="t" d="M606,686 C609,688 619,688 622,686 M606,687.5 C609,689.5 619,689.5 622,687.5"/>
<path class="n" d="M598.5,703 C595,706 594,711 595.5,714 C598,718.5 606,720.5 614.5,721 C620,721 624,719.5 626.3,716.3"/>
<path class="n" d="M594.8,715.3 C597,719.5 605,722.5 614.5,723.3 C620,723.5 624,722 626.5,719.5"/>
<path class="n" d="M617,709 L627,704 L632,707 L631,715 L627,717.5 L622,716 L618,712 Z"/>
<path class="n" d="M625,716 L626.5,722"/>
<path class="k" d="M603.7,722.5 L609.1,722.5 L609.1,735 Q606.4,736.5 603.7,735 Z" style="stroke-width:1.5"/>
<path class="k" d="M617.5,723 L622.9,723 L622.9,727.5 Q620.2,729 617.5,727.5 Z" style="stroke-width:1.5"/>
</g>

<g transform="translate(57.9,100.1) rotate(28.8)"><ellipse cx="0.3" cy="0" rx="3.4" ry="4" fill="#000"/><path d="M0.5,-3.0 L14.9,-2.1 A2.1,2.1 0 0 1 14.9,2.1 L0.5,3.0 Z" fill="#000"/></g>
<g transform="translate(101.2,95.4) rotate(29.3)"><ellipse cx="0.3" cy="0" rx="3.4" ry="4" fill="#000"/><path d="M0.5,-3.0 L15.4,-2.1 A2.1,2.1 0 0 1 15.4,2.1 L0.5,3.0 Z" fill="#000"/></g>
<g transform="translate(174.0,46.0) rotate(31.0)"><ellipse cx="0.3" cy="0" rx="3.4" ry="4" fill="#000"/><path d="M0.5,-3.0 L16.2,-2.1 A2.1,2.1 0 0 1 16.2,2.1 L0.5,3.0 Z" fill="#000"/></g>
<g transform="translate(174.0,90.0) rotate(31.0)"><ellipse cx="0.3" cy="0" rx="3.4" ry="4" fill="#000"/><path d="M0.5,-3.0 L16.2,-2.1 A2.1,2.1 0 0 1 16.2,2.1 L0.5,3.0 Z" fill="#000"/></g>
<g transform="translate(13.7,127.3) rotate(28.0)"><ellipse cx="0.3" cy="0" rx="3.4" ry="4" fill="#000"/><path d="M0.5,-3.0 L15.3,-2.1 A2.1,2.1 0 0 1 15.3,2.1 L0.5,3.0 Z" fill="#000"/></g>
<g transform="translate(87.9,156.8) rotate(30.3)"><ellipse cx="0.3" cy="0" rx="3.4" ry="4" fill="#000"/><path d="M0.5,-3.0 L15.1,-2.1 A2.1,2.1 0 0 1 15.1,2.1 L0.5,3.0 Z" fill="#000"/></g>
<g transform="translate(57.4,169.8) rotate(28.0)"><ellipse cx="0.3" cy="0" rx="3.4" ry="4" fill="#000"/><path d="M0.5,-3.0 L15.3,-2.1 A2.1,2.1 0 0 1 15.3,2.1 L0.5,3.0 Z" fill="#000"/></g>
<g transform="translate(92.2,206.4) rotate(30.3)"><ellipse cx="0.3" cy="0" rx="3.4" ry="4" fill="#000"/><path d="M0.5,-3.0 L15.1,-2.1 A2.1,2.1 0 0 1 15.1,2.1 L0.5,3.0 Z" fill="#000"/></g>
<g transform="translate(61.9,239.5) rotate(27.6)"><ellipse cx="0.3" cy="0" rx="3.4" ry="4" fill="#000"/><path d="M0.5,-3.0 L15.5,-2.1 A2.1,2.1 0 0 1 15.5,2.1 L0.5,3.0 Z" fill="#000"/></g>
<g transform="translate(475.0,460.8) rotate(28.9)"><ellipse cx="0.3" cy="0" rx="3.4" ry="4" fill="#000"/><path d="M0.5,-3.0 L15.3,-2.1 A2.1,2.1 0 0 1 15.3,2.1 L0.5,3.0 Z" fill="#000"/></g>
<g transform="translate(458.5,477.5) rotate(30.7)"><ellipse cx="0.3" cy="0" rx="3.4" ry="4" fill="#000"/><path d="M0.5,-3.0 L15.0,-2.1 A2.1,2.1 0 0 1 15.0,2.1 L0.5,3.0 Z" fill="#000"/></g>
<text class="lb" transform="translate(79.1,18.2) scale(0.88,1)">1</text>
<path class="ul" d="M75.3,18.6 H88.4"/>
<path class="ld" d="M75.3,18.6 L59.5,96"/>
<text class="lb" transform="translate(155.1,18.2) scale(0.88,1)">2</text>
<path class="ul" d="M152,18.6 H165"/>
<path class="ld" d="M152,18.6 L140,102.5"/>
<text class="lb" transform="translate(260.0,17.6) scale(0.88,1)">3</text>
<path class="ul" d="M255.3,19.1 H268.8"/>
<path class="ld" d="M255.3,19.1 L249,75"/>
<text class="lb" transform="translate(302.5,175.3) scale(0.88,1)">4</text>
<path class="ul" d="M299,177 H312.5"/>
<path class="ld" d="M299,177 L286.1,228.1"/>
<text class="lb" transform="translate(344.4,175.3) scale(0.88,1)">5</text>
<path class="ul" d="M340.1,177 H354.4"/>
<path class="ld" d="M340.1,177 L284.8,259.3"/>
<text class="lb" transform="translate(397.2,175.3) scale(0.88,1)">6</text>
<path class="ul" d="M393.7,177 H406.5"/>
<path class="ld" d="M393.7,177 L379.6,247"/>
<text class="lb" transform="translate(436.9,175.3) scale(0.88,1)">7</text>
<path class="ul" d="M433.4,177 H446.1"/>
<path class="ld" d="M433.4,177 L414,233"/>
<text class="lb" transform="translate(470.6,175.3) scale(0.88,1)">8</text>
<path class="ul" d="M467.1,177 H479.8"/>
<path class="ld" d="M467.1,177 L450,216.7"/>
<text class="lb" transform="translate(580.5,175.6) scale(0.88,1)">9</text>
<path class="ul" d="M577,177.2 H589.9"/>
<path class="ld" d="M577,177.2 L573,263"/>
<text class="lb" transform="translate(630.1,373.1) scale(0.88,1)">10</text>
<path class="ul" d="M629.1,374.3 H643.7"/>
<path class="ld" d="M629.1,374.3 L604.3,365"/>
<text class="lb" transform="translate(630.0,516.5) scale(0.88,1)">11</text>
<path class="ul" d="M629.7,517.6 H642.8"/>
<path class="ld" d="M629.7,517.6 L582,537.8"/>
<text class="lb" transform="translate(630.0,587.5) scale(0.88,1)">12</text>
<path class="ul" d="M629.7,589 H642.8"/>
<path class="ld" d="M629.7,589 L611.7,611.9"/>
<text class="lb" transform="translate(326.6,561.3) scale(0.88,1)">13</text>
<path class="ul" d="M326.8,562.4 H340.5"/>
<path class="ld" d="M340.5,562.4 L486.7,494.7"/>
<text class="lb" transform="translate(326.6,509.7) scale(0.88,1)">14</text>
<path class="ul" d="M326.8,510.8 H341.5"/>
<path class="ld" d="M341.5,510.8 L458,481.7"/>
<text class="lb" transform="translate(326.7,460.0) scale(0.88,1)">15</text>
<path class="ul" d="M326.7,461.3 H340.3"/>
<path class="ld" d="M340.3,461.3 L405.8,430.5"/>
<text class="lb" transform="translate(326.7,428.1) scale(0.88,1)">16</text>
<path class="ul" d="M326.7,429.6 H340.3"/>
<path class="ld" d="M340.3,429.6 L380.7,385.1"/>
<text class="lb" transform="translate(326.4,381.0) scale(0.88,1)">17</text>
<path class="ul" d="M326.5,382.5 H339.5"/>
<path class="ld" d="M339.5,382.5 L365,338"/>
<text class="lb" transform="translate(303.5,381.0) scale(0.88,1)">18</text>
<path class="ul" d="M303.1,382.5 H316.6"/>
<path class="ld" d="M303.1,382.5 L293,326"/>
<text class="lb" transform="translate(262.0,404.4) scale(0.88,1)">19</text>
<path class="ul" d="M261.0,405.7 H275.0"/>
<path class="ld" d="M261.0,405.7 L247.8,381.8"/>
<text class="lb" transform="translate(179.6,449.7) scale(0.88,1)">20</text>
<path class="ul" d="M178.2,451.1 H193.8"/>
<path class="ld" d="M178.2,451.1 L155.9,428.7"/>
<text class="lb" transform="translate(108.8,489.3) scale(0.88,1)">21</text>
<path class="ul" d="M108.2,490.6 H122.2"/>
<path class="ld" d="M108.2,490.6 L75,442"/>
</svg></body></html>
